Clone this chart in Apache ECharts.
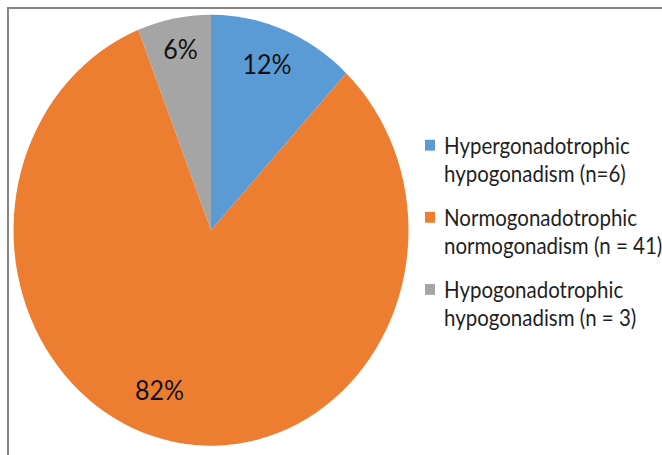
<!DOCTYPE html>
<html>
<head>
<meta charset="utf-8">
<script src="https://cdn.jsdelivr.net/npm/echarts@6/dist/echarts.min.js"></script>
<style>
  html, body { margin: 0; padding: 0; background: #fff; overflow: hidden; }
  #frame { position: absolute; left: 7px; top: 7px; width: 700px; height: 500px;
           border-top: 2px solid #858585; border-left: 2px solid #858585; }
  #chart { position: absolute; left: 0; top: 0; width: 662px; height: 417px;
           transform: scaleY(1.0911); transform-origin: 0 0; }
</style>
</head>
<body>
<div id="frame"></div>
<div id="chart"></div>
<script>
// ---- data ----
const categories = [
  'Hypergonadotrophic\nhypogonadism (n=6)',
  'Normogonadotrophic\nnormogonadism (n = 41)',
  'Hypogonadotrophic\nhypogonadism (n = 3)'
];
const counts = [6, 41, 3];
const colors = ['#5B9BD5', '#ED7D31', '#A5A5A5'];

// label nudges (px) to match the reference's label placement
const labelNudge = [{ dx: -4, dy: -1 }, { dx: -21, dy: -14 }, { dx: 0, dy: -7 }];

const center = [211, 211];
const R = 197.5;

const chart = echarts.init(document.getElementById('chart'), null, { renderer: 'svg' });
const pieData = categories.map((c, i) => ({ name: c, value: counts[i], itemStyle: { color: colors[i] } }));
const lineH = 25.7;

chart.setOption({
  animation: false,
  legend: {
    orient: 'vertical',
    left: 425,
    top: 94.5,
    padding: 0,
    itemWidth: 10,
    itemHeight: 10,
    itemGap: -11,
    icon: 'rect',
    selectedMode: false,
    data: categories.map((c, i) => ({ name: c, itemStyle: { color: colors[i] } })),
    // leading empty line keeps the icon beside the first text line
    formatter: function (name) { return '\n' + name; },
    textStyle: {
      fontFamily: 'Lato',
      fontSize: 20.5,
      color: '#1f1f1f',
      lineHeight: lineH,
      padding: [0, 0, 0, 4]
    }
  },
  series: [
    {
      type: 'pie',
      silent: true,
      center: center,
      radius: [0, R],
      startAngle: 90,
      clockwise: true,
      label: { show: false },
      labelLine: { show: false },
      itemStyle: { borderWidth: 0 },
      data: pieData
    },
    {
      type: 'pie',
      silent: true,
      center: center,
      radius: [122, R],
      startAngle: 90,
      clockwise: true,
      itemStyle: { color: 'rgba(0,0,0,0)', borderWidth: 0 },
      label: {
        show: true,
        position: 'inside',
        formatter: '{d}%',
        fontFamily: 'Lato',
        fontSize: 25,
        color: '#111'
      },
      labelLine: { show: false },
      labelLayout: function (p) { return labelNudge[p.dataIndex]; },
      data: categories.map((c, i) => ({ name: c, value: counts[i] }))
    }
  ]
});
</script>
</body>
</html>
